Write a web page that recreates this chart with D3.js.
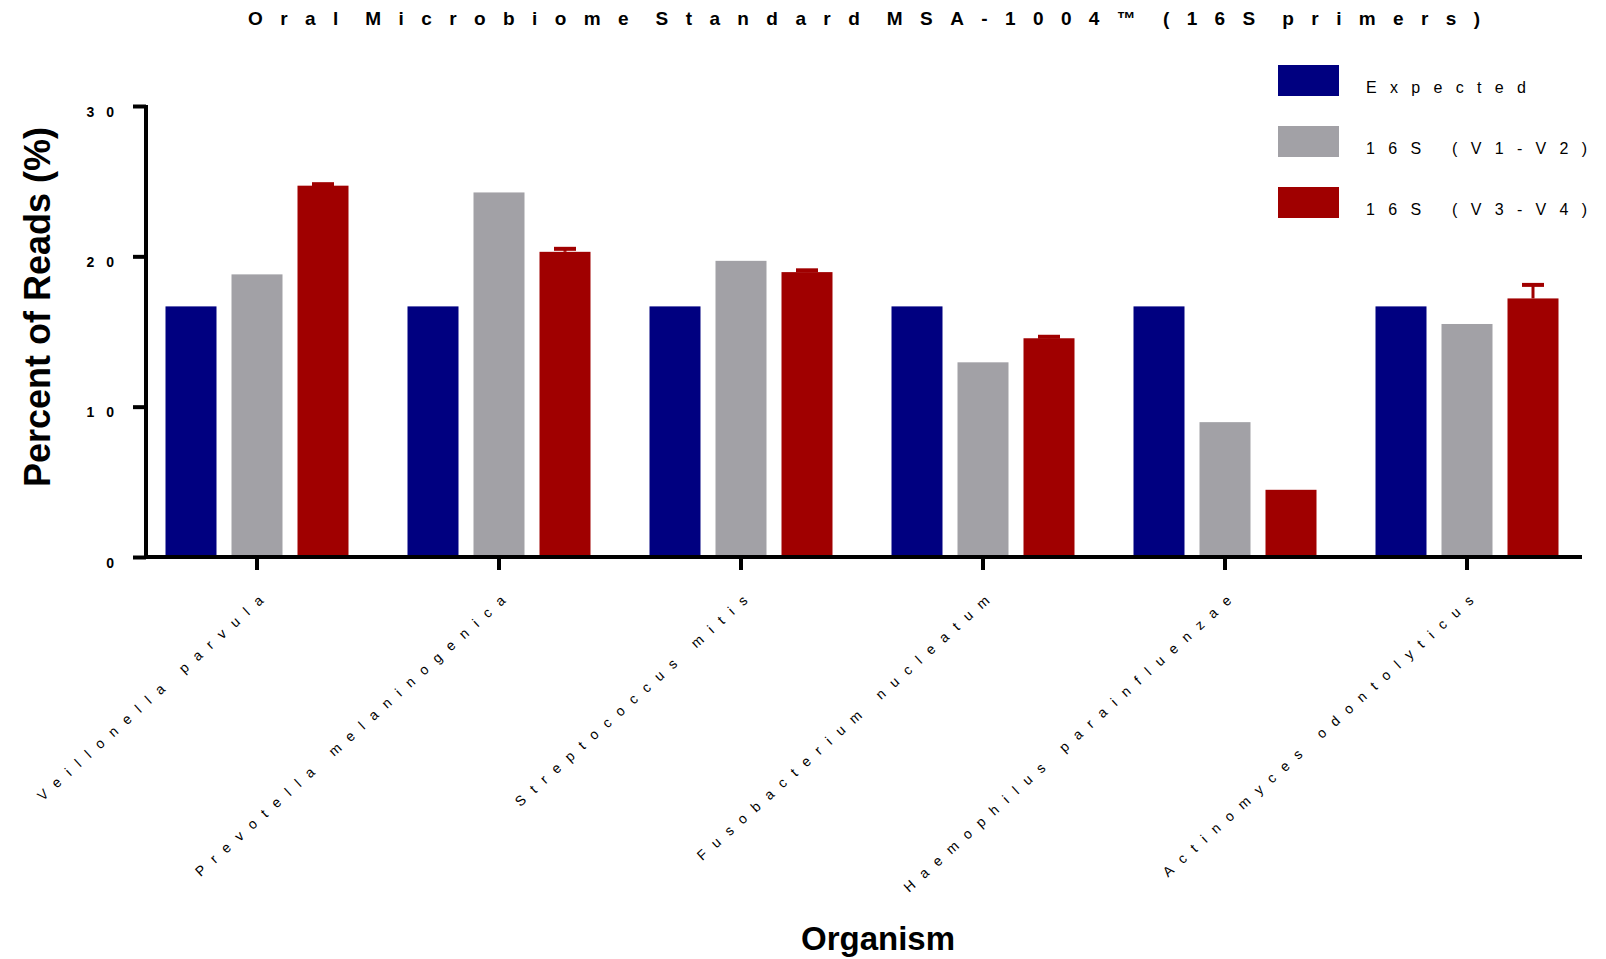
<!DOCTYPE html>
<html>
<head>
<meta charset="utf-8">
<script src="https://cdn.jsdelivr.net/npm/d3@7"></script>
<style>
  html, body { margin: 0; padding: 0; background: #fff; }
  svg { display: block; font-family: "Liberation Sans", Arial, sans-serif; }
</style>
</head>
<body>
<svg id="chart" width="1606" height="959"></svg>
<script>
// data
const categories = [
  "Veillonella parvula",
  "Prevotella melaninogenica",
  "Streptococcus mitis",
  "Fusobacterium nucleatum",
  "Haemophilus parainfluenzae",
  "Actinomyces odontolyticus"
];
const seriesNames = ["Expected", "16S (V1-V2)", "16S (V3-V4)"];
const expected = [16.67, 16.67, 16.67, 16.67, 16.67, 16.67];
const v1v2 = [18.8, 24.25, 19.7, 12.95, 8.97, 15.5];
const v3v4 = [24.7, 20.3, 18.95, 14.55, 4.47, 17.2];
const v3v4Err = [0.1, 0.2, 0.12, 0.1, 0, 0.9];
const yTicks = [0, 10, 20, 30];
const colors = ["#000080", "#a2a1a6", "#a00000"];

const svg = d3.select("#chart");

const x0 = d3.scaleBand().domain(categories).range([136, 1588]);
const x1 = d3.scaleBand().domain(seriesNames).range([0, 183]).paddingInner(15 / 66);
const y = d3.scaleLinear().domain([0, 30]).range([557, 106]);
const color = d3.scaleOrdinal().domain(seriesNames).range(colors);

const groupLeft = (c) => x0(c) + x0.bandwidth() / 2 - 91.5;

// rows for the bars
const seriesValues = [expected, v1v2, v3v4];
const bars = [];
categories.forEach((c, i) => {
  seriesNames.forEach((s, j) => {
    bars.push({cat: c, series: s, value: seriesValues[j][i], err: j === 2 ? v3v4Err[i] : null});
  });
});

// title, spread out like the original
svg.append("text")
  .attr("x", 248)
  .attr("y", 25)
  .style("font-weight", "bold")
  .style("font-size", "19px")
  .style("letter-spacing", "17.4px")
  .style("word-spacing", "-13px")
  .text("Oral Microbiome Standard MSA-1004\u2122 (16S primers)");

// bars
svg.append("g").selectAll("rect")
  .data(bars)
  .join("rect")
  .attr("x", (d) => groupLeft(d.cat) + x1(d.series))
  .attr("y", (d) => y(d.value))
  .attr("width", x1.bandwidth())
  .attr("height", (d) => y(0) - y(d.value))
  .attr("fill", (d) => color(d.series));

// error bars (upper only)
const errs = bars.filter((d) => d.err !== null && d.err > 0);
const eg = svg.append("g").attr("stroke", colors[2]);
eg.selectAll("line.stem")
  .data(errs)
  .join("line")
  .attr("class", "stem")
  .attr("x1", (d) => groupLeft(d.cat) + x1(d.series) + x1.bandwidth() / 2)
  .attr("x2", (d) => groupLeft(d.cat) + x1(d.series) + x1.bandwidth() / 2)
  .attr("y1", (d) => y(d.value))
  .attr("y2", (d) => y(d.value + d.err))
  .attr("stroke-width", 3);
eg.selectAll("line.cap")
  .data(errs)
  .join("line")
  .attr("class", "cap")
  .attr("x1", (d) => groupLeft(d.cat) + x1(d.series) + x1.bandwidth() / 2 - 11)
  .attr("x2", (d) => groupLeft(d.cat) + x1(d.series) + x1.bandwidth() / 2 + 11)
  .attr("y1", (d) => y(d.value + d.err))
  .attr("y2", (d) => y(d.value + d.err))
  .attr("stroke-width", 4);

// y axis
const yAxis = svg.append("g")
  .attr("transform", "translate(146,0)")
  .call(d3.axisLeft(y).tickValues(yTicks).tickSize(13).tickSizeOuter(0).tickPadding(7));
yAxis.select(".domain").remove();
yAxis.selectAll(".tick line").attr("stroke", "#000").attr("stroke-width", 4);
yAxis.selectAll(".tick text")
  .attr("dy", 10)
  .style("font-family", "'Liberation Sans', Arial, sans-serif")
  .style("font-weight", "bold")
  .style("font-size", "14px")
  .style("letter-spacing", "12px")
  .attr("fill", "#000");

// x axis
const xAxis = svg.append("g")
  .attr("transform", `translate(0,${y(0)})`)
  .call(d3.axisBottom(x0).tickSize(13).tickSizeOuter(0));
xAxis.select(".domain").remove();
xAxis.selectAll(".tick line").attr("stroke", "#000").attr("stroke-width", 4);
xAxis.selectAll(".tick text")
  .attr("x", 0)
  .attr("y", 0)
  .attr("dy", 0)
  .attr("text-anchor", "end")
  .attr("transform", "translate(15,38) rotate(-42)")
  .style("font-family", "'Liberation Sans', Arial, sans-serif")
  .style("font-size", "14px")
  .style("letter-spacing", "10.3px")
  .attr("fill", "#000");

// axis lines
svg.append("line")
  .attr("x1", 146).attr("x2", 146)
  .attr("y1", y(30) - 1).attr("y2", y(0) + 2)
  .attr("stroke", "#000").attr("stroke-width", 4);
svg.append("line")
  .attr("x1", 144).attr("x2", 1582)
  .attr("y1", y(0)).attr("y2", y(0))
  .attr("stroke", "#000").attr("stroke-width", 4);

// axis titles
svg.append("text")
  .attr("transform", "translate(50,307) rotate(-90)")
  .attr("text-anchor", "middle")
  .style("font-weight", "bold")
  .style("font-size", "36px")
  .text("Percent of Reads (%)");
svg.append("text")
  .attr("x", 878)
  .attr("y", 950)
  .attr("text-anchor", "middle")
  .style("font-weight", "bold")
  .style("font-size", "33px")
  .text("Organism");

// legend
const legend = svg.append("g").selectAll("g")
  .data(seriesNames)
  .join("g")
  .attr("transform", (d, i) => `translate(1278,${65 + i * 61})`);
legend.append("rect")
  .attr("width", 61)
  .attr("height", 31)
  .attr("fill", (d) => color(d));
legend.append("text")
  .attr("x", 88)
  .attr("y", 28)
  .style("font-size", "16px")
  .style("letter-spacing", "13.3px")
  .text((d) => d);
</script>
</body>
</html>
